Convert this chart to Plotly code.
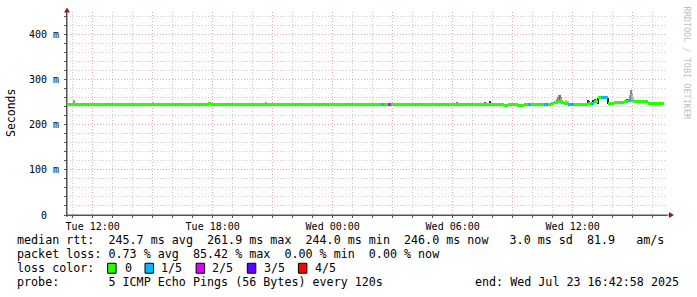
import plotly.graph_objects as go
from datetime import datetime, timedelta

# ---------------- data ----------------
START = "2025-07-22 10:42:58"
END = "2025-07-23 16:42:58"
FIRST_BIN = "2025-07-22 10:45:00"
BIN_MINUTES = 10

# median rtt (ms), one row = 18 bins of 10 minutes (3 hours)
median_rows = [
    [246, 246, 245.5, 245.5, 245.5, 245.5, 245.5, 245.5, 244.5, 245.5, 245.5, 245.5, 245.5, 245.5, 245.5, 245.5, 245.5, 245.5],
    [245.5, 245.5, 245.5, 245.5, 245, 245, 245, 245, 245, 245.5, 245.5, 245.5, 245.5, 245.5, 245.5, 245.5, 244, 244],
    [244, 245.5, 245.5, 245.5, 245.5, 246, 246.5, 245.5, 245.5, 245.5, 244.5, 245.5, 244.5, 244.3, 244.3, 244.3, 244.3, 244.3],
    [245.5, 244.3, 244.3, 244.3, 245.5, 245.5, 244.3, 244.3, 244.3, 244.3, 244.3, 244.3, 244.3, 244.3, 244.3, 245, 245, 244.3],
    [245.5, 244.3, 244.3, 245, 244.3, 244.3, 244.3, 244.3, 244.3, 244.3, 244.3, 245.5, 244.3, 245, 244.8, 244.3, 244.3, 245.5],
    [245, 244.5, 245, 244.5, 245, 245.5, 245.5, 244.5, 244.5, 245.5, 244.5, 245, 245.5, 244.5, 245.5, 245.5, 244.5, 245.5],
    [246, 246, 246, 246, 246, 246, 246, 246, 246, 246, 246, 246, 246, 246, 246, 246, 246, 246],
    [245.5, 244.5, 244.5, 244.5, 244.5, 243.5, 244.5, 244.5, 244.5, 243.5, 243.5, 244.5, 245, 245.5, 245.5, 245.5, 245.5, 245.5],
    [246, 247, 249, 252, 249, 248, 245.5, 245, 245, 245, 245, 244, 248, 248, 251, 260, 260, 260],
    [247, 248, 249, 250, 250, 251, 253, 253, 252, 252, 252, 252, 248, 246.5, 246.5, 246.5, 246.5, None],
]

# lost pings out of 5 for each bin
loss_rows = [
    [0] * 18,
    [0] * 18,
    [0] * 18,
    [0] * 18,
    [0] * 18,
    [0, 0, 0, 0, 1, 0, 2, 0, 0, 0, 0, 0, 0, 0, 0, 0, 0, 0],
    [0] * 18,
    [0, 0, 0, 0, 0, 0, 0, 0, 0, 0, 0, 0, 1, 0, 0, 0, 0, 1],
    [0, 0, 0, 0, 0, 0, 1, 1, 0, 0, 0, 0, 0, 1, 0, 0, 1, 1],
    [0, 0, 0, 0, 0, 0, 1, 0, 0, 0, 0, 0, 0, 0, 0, 0, 0, 0],
]

# smoke (ping spread) around the median
smoke_times = [
    "2025-07-22 11:02:30", "2025-07-22 15:01:00", "2025-07-22 20:40:00",
    "2025-07-23 06:13:00", "2025-07-23 07:37:00", "2025-07-23 07:52:00",
    "2025-07-23 11:13:00", "2025-07-23 11:16:00", "2025-07-23 11:19:00",
    "2025-07-23 11:22:00", "2025-07-23 11:25:00", "2025-07-23 11:28:00",
    "2025-07-23 11:40:00", "2025-07-23 11:46:00",
    "2025-07-23 12:46:00", "2025-07-23 12:49:00",
    "2025-07-23 13:01:00", "2025-07-23 13:07:00",
    "2025-07-23 13:14:30", "2025-07-23 13:46:00",
    "2025-07-23 14:43:00", "2025-07-23 14:52:00", "2025-07-23 14:55:00",
    "2025-07-23 14:58:00", "2025-07-23 15:01:00",
]
smoke_lo = [246, 247, 246, 246, 246, 246, 250, 250, 252, 252, 251, 249, 250, 250,
            245, 245, 248, 248, 246, 246, 251, 250, 252, 251, 251]
smoke_hi = [254, 249, 250, 250, 251, 253, 258, 262, 266, 266, 262, 256, 254, 253,
            254, 252, 256, 257, 260, 260, 257, 266, 277, 268, 262]
smoke_shade = ["#999999", "#aaaaaa", "#999999", "#777777", "#555555", "#333333",
               "#888888", "#888888", "#999999", "#666666", "#999999", "#aaaaaa",
               "#bbbbbb", "#bbbbbb",
               "#333333", "#333333", "#333333", "#333333",
               "#222222", "#222222", "#444444", "#999999", "#888888",
               "#aaaaaa", "#bbbbbb"]

loss_labels = ["0", "1/5", "2/5", "3/5", "4/5"]
loss_colors = ["#26ff00", "#00b8ff", "#dd00ff", "#5e00ff", "#ff0000"]

y_tick_vals = [0, 100, 200, 300, 400]
y_tick_text = ["0  ", "100 m", "200 m", "300 m", "400 m"]

legend_rows = [
    "median rtt:  245.7 ms avg  261.9 ms max  244.0 ms min  246.0 ms now   3.0 ms sd  81.9   am/s",
    "packet loss: 0.73 % avg  85.42 % max  0.00 % min  0.00 % now",
    "loss color:",
    "probe:       5 ICMP Echo Pings (56 Bytes) every 120s",
]
end_text = "end: Wed Jul 23 16:42:58 2025"

# ---------------- geometry / style ----------------
W, H = 697, 297
L, R_, T, B = 67, 667, 11.5, 215.5
BAND_HALF = 3.3          # half thickness of median band (ms)
MONO = "DejaVu Sans Mono"
GRID = "#c8c8c8"
MGRID = "#e3a6a6"
AXIS = "#555555"
ARROW = "#9b1b1b"


def nb(s):
    return s.replace(" ", "\u00a0")


def px_x(px):
    return (px - L) / (R_ - L)


def px_y(py):
    return (B - py) / (B - T)


# ---------------- build series ----------------
t0 = datetime.strptime(FIRST_BIN, "%Y-%m-%d %H:%M:%S")
step = timedelta(minutes=BIN_MINUTES)
xs, bases, heights, colors = [], [], [], []
k = 0
for mrow, lrow in zip(median_rows, loss_rows):
    for m, l in zip(mrow, lrow):
        if m is not None:
            xs.append(t0 + step * k + step / 2)
            bases.append(m - BAND_HALF)
            heights.append(2 * BAND_HALF)
            colors.append(loss_colors[l])
        k += 1

fig = go.Figure()

fig.add_trace(go.Bar(
    x=[datetime.strptime(s, "%Y-%m-%d %H:%M:%S") for s in smoke_times],
    y=[h - l for h, l in zip(smoke_hi, smoke_lo)],
    base=smoke_lo,
    width=180000,
    marker=dict(color=smoke_shade, line=dict(width=0)),
    hoverinfo="skip",
))

fig.add_trace(go.Bar(
    x=xs, y=heights, base=bases,
    width=BIN_MINUTES * 60000,
    marker=dict(color=colors, line=dict(width=0)),
    hoverinfo="skip",
))

# x ticks: major grid every 3h, label every 6h
tstart = datetime.strptime("2025-07-22 12:00:00", "%Y-%m-%d %H:%M:%S")
tend = datetime.strptime(END, "%Y-%m-%d %H:%M:%S")
tickvals, ticktext = [], []
t = tstart
while t <= tend:
    tickvals.append(t)
    ticktext.append(nb(t.strftime("%a %H:%M")) if t.hour % 6 == 0 else "")
    t += timedelta(hours=3)

fig.update_layout(
    width=W, height=H,
    margin=dict(l=L, r=W - R_, t=T, b=H - B, pad=0),
    paper_bgcolor="white", plot_bgcolor="white",
    showlegend=False, barmode="overlay", bargap=0,
    font=dict(family=MONO, color="#000000"),
)

fig.update_xaxes(
    type="date", range=[START, END],
    tickmode="array", tickvals=tickvals, ticktext=ticktext,
    tickfont=dict(family=MONO, size=10, color="#000"),
    showgrid=True, gridcolor=MGRID, gridwidth=1, griddash="1px,2px",
    ticks="outside", ticklen=2, tickcolor=AXIS,
    minor=dict(dtick=3600000, tick0="2025-07-22 11:00:00", showgrid=True,
               gridcolor=GRID, gridwidth=1, griddash="1px,2px",
               ticks="outside", ticklen=2, tickcolor=AXIS),
    showline=True, linecolor=AXIS, linewidth=1,
    zeroline=False, fixedrange=True,
)

fig.update_yaxes(
    range=[0, 450],
    tickmode="array", tickvals=y_tick_vals, ticktext=[nb(s) for s in y_tick_text],
    tickfont=dict(family=MONO, size=10, color="#000"),
    showgrid=True, gridcolor=MGRID, gridwidth=1, griddash="1px,2px",
    ticks="outside", ticklen=2, tickcolor=AXIS, ticklabelstandoff=3,
    minor=dict(dtick=20, showgrid=True, gridcolor=GRID, gridwidth=1,
               griddash="1px,2px", ticks="outside", ticklen=2, tickcolor=AXIS),
    showline=True, linecolor=AXIS, linewidth=1,
    zeroline=False, fixedrange=True,
)

shapes = []
# axis extensions and arrows
shapes.append(dict(type="line", xref="paper", yref="paper",
                   x0=px_x(L), x1=px_x(669), y0=px_y(B), y1=px_y(B),
                   line=dict(color=AXIS, width=1)))
shapes.append(dict(type="path", xref="paper", yref="paper",
                   path=f"M {px_x(669)} {px_y(B - 3)} L {px_x(674)} {px_y(B)} L {px_x(669)} {px_y(B + 3)} Z",
                   fillcolor=ARROW, line=dict(color=ARROW, width=0)))
shapes.append(dict(type="line", xref="paper", yref="paper",
                   x0=px_x(L), x1=px_x(L), y0=px_y(B + 2), y1=px_y(12),
                   line=dict(color=AXIS, width=1)))
shapes.append(dict(type="path", xref="paper", yref="paper",
                   path=f"M {px_x(L - 3)} {px_y(12)} L {px_x(L)} {px_y(7)} L {px_x(L + 3)} {px_y(12)} Z",
                   fillcolor=ARROW, line=dict(color=ARROW, width=0)))

annotations = []
annotations.append(dict(text="Seconds", xref="paper", yref="paper",
                        x=px_x(11), y=px_y(113), textangle=-90, showarrow=False,
                        xanchor="center", yanchor="middle",
                        font=dict(family=MONO, size=11.5, color="#000")))
annotations.append(dict(text=nb("RRDTOOL / TOBI OETIKER"), xref="paper", yref="paper",
                        x=px_x(686.5), y=px_y(4), textangle=90, showarrow=False,
                        xanchor="center", yanchor="top",
                        font=dict(family=MONO, size=8.5, color="#c0c0c0")))

row_y = [241, 255, 269, 283]
for txt, yy in zip(legend_rows, row_y):
    annotations.append(dict(text=nb(txt), xref="paper", yref="paper",
                            x=px_x(15), y=px_y(yy), showarrow=False,
                            xanchor="left", yanchor="middle",
                            font=dict(family=MONO, size=11.7, color="#000")))
annotations.append(dict(text=nb(end_text), xref="paper", yref="paper",
                        x=px_x(681), y=px_y(283), showarrow=False,
                        xanchor="right", yanchor="middle",
                        font=dict(family=MONO, size=11.7, color="#000")))

box_x = [107.6, 145.0, 196.1, 247.3, 298.4]
lab_x = [122.5, 159.0, 210.3, 261.5, 312.6]
for bx, lx, lab, col in zip(box_x, lab_x, loss_labels, loss_colors):
    shapes.append(dict(type="rect", xref="paper", yref="paper",
                       x0=px_x(bx), x1=px_x(bx + 8.5), y0=px_y(274), y1=px_y(264),
                       fillcolor=col, line=dict(color="#000", width=1)))
    annotations.append(dict(text=lab, xref="paper", yref="paper",
                            x=px_x(lx), y=px_y(269), showarrow=False,
                            xanchor="left", yanchor="middle",
                            font=dict(family=MONO, size=11.7, color="#000")))

fig.update_layout(shapes=shapes, annotations=annotations)

fig.write_html("out.html", config={"displayModeBar": False},
               post_script="document.body.style.margin='0px';")
